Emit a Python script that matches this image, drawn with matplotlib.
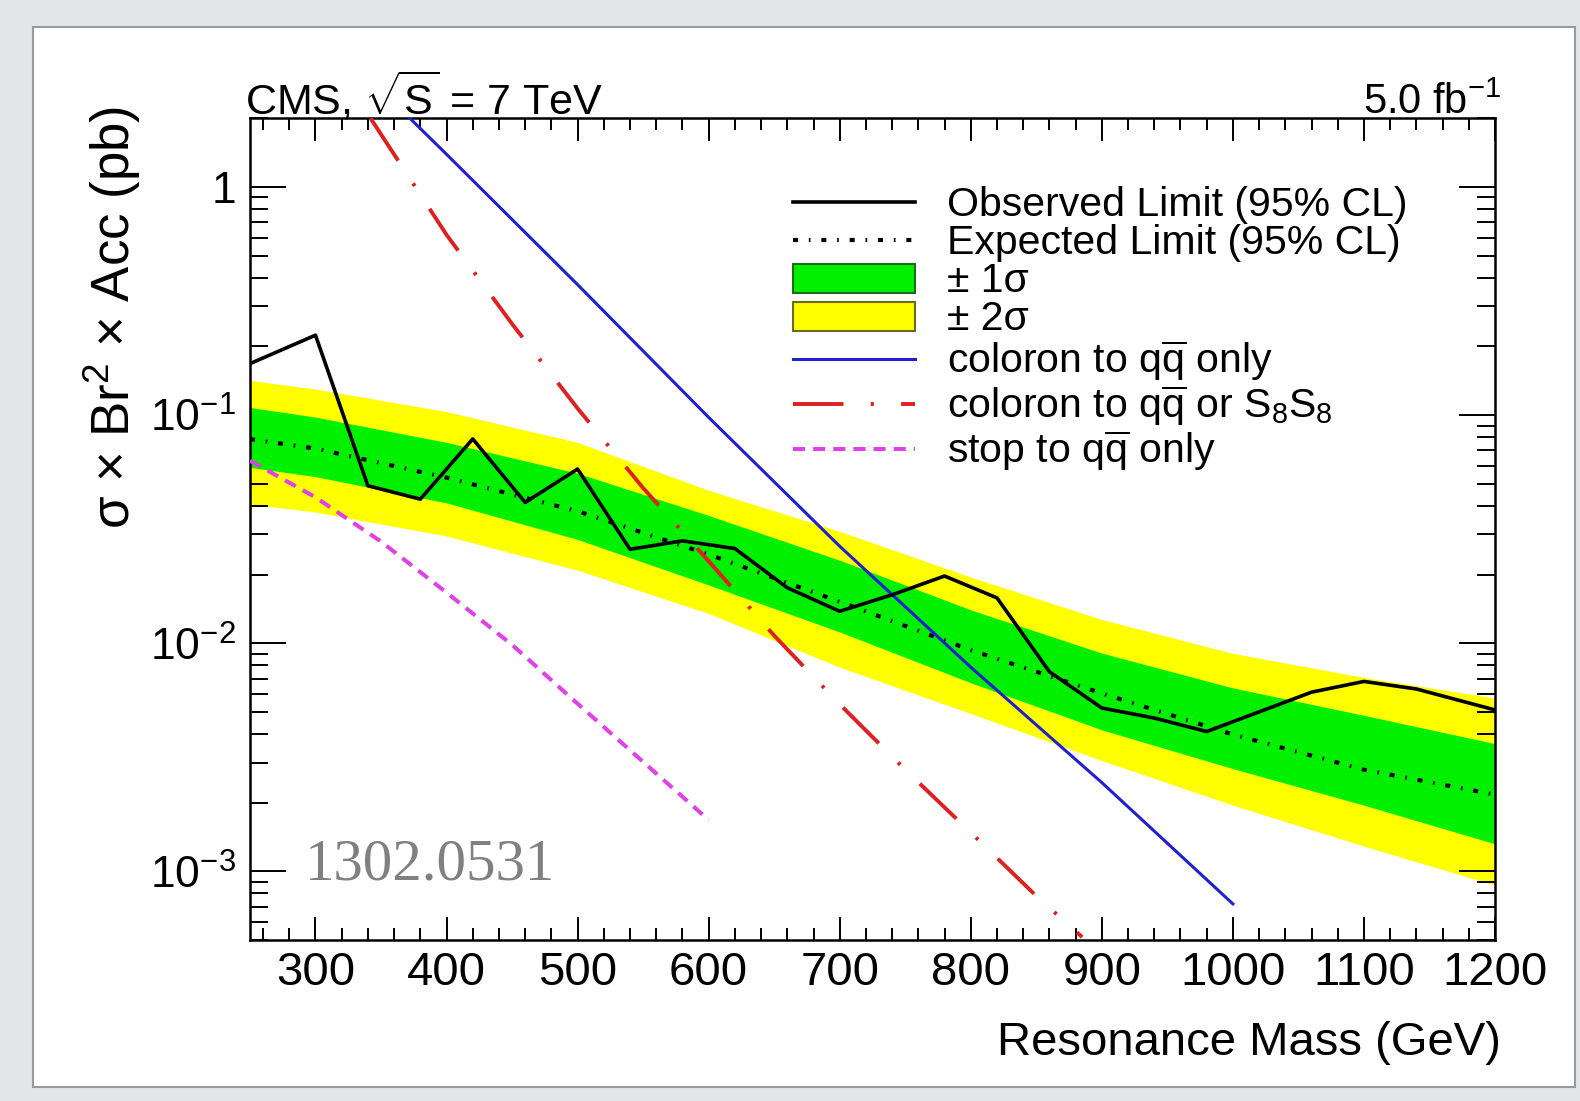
import matplotlib
matplotlib.use('Agg')
import matplotlib.pyplot as plt
from matplotlib.patches import Rectangle, Patch
from matplotlib.lines import Line2D
from matplotlib.ticker import FixedLocator, FixedFormatter, LogLocator, MultipleLocator, NullFormatter

plt.rcParams.update({
    'font.family': ['Liberation Sans', 'DejaVu Sans'],
    'mathtext.fontset': 'custom',
    'mathtext.rm': 'Liberation Sans',
    'mathtext.it': 'Liberation Sans:italic',
    'mathtext.bf': 'Liberation Sans:bold',
})

# ----- data (mass in GeV, cross section in pb) -----
mass_obs = [250, 300, 340, 380, 420, 460, 500, 540, 580, 620, 660, 700,
            740, 780, 820, 860, 900, 940, 980, 1020, 1060, 1100, 1140, 1200]
obs_limit = [0.168, 0.224, 0.049, 0.0428, 0.0786, 0.0414, 0.058, 0.0258,
             0.0281, 0.026, 0.0175, 0.0138, 0.0163, 0.0197, 0.0158, 0.0075,
             0.0052, 0.0047, 0.0041, 0.0050, 0.0061, 0.0068, 0.0063, 0.0051]

mass_exp = [250, 300, 400, 500, 600, 700, 800, 900, 1000, 1100, 1200]
exp_limit = [0.0785, 0.0713, 0.0532, 0.0379, 0.0245, 0.0152, 0.00933,
             0.00603, 0.00398, 0.00279, 0.00217]
two_sig_up = [0.142, 0.130, 0.1035, 0.0759, 0.0468, 0.0309, 0.0195,
              0.0127, 0.00902, 0.00708, 0.00575]
one_sig_up = [0.108, 0.098, 0.0759, 0.0556, 0.0363, 0.0231, 0.0140,
              0.00905, 0.00637, 0.00483, 0.00363]
one_sig_dn = [0.059, 0.0537, 0.0412, 0.0285, 0.0180, 0.0112, 0.00671,
              0.00417, 0.00282, 0.00195, 0.00132]
two_sig_dn = [0.0407, 0.0376, 0.0295, 0.0209, 0.0135, 0.00785, 0.00492,
              0.00306, 0.00195, 0.00129, 0.00087]

mass_coloron = [372, 400, 500, 600, 700, 800, 900, 1000]
xs_coloron = [2.0, 1.39, 0.373, 0.0977, 0.0266, 0.00785, 0.00245, 0.00072]

mass_s8 = [342, 400, 450, 500, 550, 600, 650, 700, 750, 800, 850, 885]
xs_s8 = [2.0, 0.617, 0.251, 0.107, 0.0479, 0.0229, 0.0108, 0.0054,
         0.00279, 0.00148, 0.00078, 0.000515]

mass_stop = [250, 300, 350, 400, 450, 500, 550, 600]
xs_stop = [0.0631, 0.0436, 0.0279, 0.01667, 0.00984, 0.00543, 0.00302, 0.00168]

x_major = [300, 400, 500, 600, 700, 800, 900, 1000, 1100, 1200]
y_major = [1e-3, 1e-2, 1e-1, 1]
y_labels = ['$10^{-3}$', '$10^{-2}$', '$10^{-1}$', '1']

legend_labels = ['Observed Limit (95% CL)',
                 'Expected Limit (95% CL)',
                 '± 1σ',
                 '± 2σ',
                 r'coloron to q$\overline{\mathrm{q}}$ only',
                 r'coloron to q$\overline{\mathrm{q}}$ or S$_8$S$_8$',
                 r'stop to q$\overline{\mathrm{q}}$ only']

# ----- styles -----
c_green = '#00f000'
c_yellow = '#ffff00'
c_blue = '#2020d0'
c_red = '#e02020'
c_magenta = '#e040e8'
ls_exp = (0, (1.2, 2.6, 0.4, 2.6))
ls_s8 = (0, (13, 7, 0.8, 7))
ls_stop = (0, (3, 2))

fig = plt.figure(figsize=(15.8, 11.01), dpi=100)
fig.patch.set_facecolor('#e3e6e9')
fig.patches.append(Rectangle((0.0209, 0.0127), 0.976, 0.9628,
                             transform=fig.transFigure, facecolor='white',
                             edgecolor='#9a9a9a', lw=1.5, zorder=-5))

ax = fig.add_axes([0.1582, 0.1462, 0.788, 0.7464])
ax.set_zorder(2)
ax.patch.set_alpha(0)

ax.fill_between(mass_exp, two_sig_dn, two_sig_up, color=c_yellow, lw=0, zorder=1)
ax.fill_between(mass_exp, one_sig_dn, one_sig_up, color=c_green, lw=0, zorder=2)
ax.plot(mass_exp, exp_limit, color='black', lw=3.0, ls=ls_exp, zorder=3)
ax.plot(mass_stop, xs_stop, color=c_magenta, lw=2.9, ls=ls_stop, zorder=4)
ax.plot(mass_s8, xs_s8, color=c_red, lw=2.8, ls=ls_s8, zorder=4)
ax.plot(mass_coloron, xs_coloron, color=c_blue, lw=2.2, zorder=4)
ax.plot(mass_obs, obs_limit, color='black', lw=2.6, zorder=5)

ax.set_xlim(250, 1200)
ax.set_yscale('log')
ax.set_ylim(5e-4, 2)

ax.xaxis.set_major_locator(FixedLocator(x_major))
ax.xaxis.set_minor_locator(MultipleLocator(20))
ax.yaxis.set_major_locator(FixedLocator(y_major))
ax.yaxis.set_major_formatter(FixedFormatter(y_labels))
ax.yaxis.set_minor_locator(LogLocator(base=10, subs=range(2, 10)))
ax.yaxis.set_minor_formatter(NullFormatter())

ax.tick_params(axis='x', which='major', direction='in', length=16.5, width=1.4,
               top=True, labelsize=34, pad=8)
ax.tick_params(axis='x', which='minor', direction='in', length=8.5, width=1.4, top=True)
ax.tick_params(axis='y', which='major', direction='in', length=26, width=1.4,
               right=True, labelsize=32, pad=10)
ax.tick_params(axis='y', which='minor', direction='in', length=13, width=1.4, right=True)
for sp in ax.spines.values():
    sp.set_linewidth(1.8)

handles = [Line2D([], [], color='black', lw=2.6),
           Line2D([], [], color='black', lw=3.0, ls=ls_exp),
           Patch(facecolor=c_green, edgecolor='#1f6a1f', lw=1.5),
           Patch(facecolor=c_yellow, edgecolor='#6b6b1f', lw=1.5),
           Line2D([], [], color=c_blue, lw=2.2),
           Line2D([], [], color=c_red, lw=2.8, ls=ls_s8),
           Line2D([], [], color=c_magenta, lw=2.9, ls=ls_stop)]
ax.legend(handles, legend_labels, loc='upper left', bbox_to_anchor=(0.436, 0.917),
          frameon=False, fontsize=29.5, handlelength=2.98, handletextpad=0.78,
          labelspacing=0.0, borderpad=0, borderaxespad=0, handleheight=0.72)

fig.text(245 / 1580, 1 - 114 / 1101, r'CMS, $\sqrt{\mathrm{S}}$ = 7 TeV',
         fontsize=31, ha='left', va='baseline')
fig.text(1501 / 1580, 1 - 114 / 1101, r'5.0 fb$^{-1}$',
         fontsize=30, ha='right', va='baseline')
fig.text(1501 / 1580, 1 - 1043 / 1101, 'Resonance Mass (GeV)',
         fontsize=34, ha='right', va='center')
fig.text(112 / 1580, 1 - 317 / 1101, 'σ × Br$^2$ × Acc (pb)',
         fontsize=38, rotation=90, ha='center', va='center')
fig.text(305 / 1580, 1 - 880 / 1101, '1302.0531', fontsize=42.5,
         family='Liberation Serif', color='#808080', ha='left', va='baseline')

fig.savefig('out.png', dpi=100, facecolor=fig.get_facecolor())
